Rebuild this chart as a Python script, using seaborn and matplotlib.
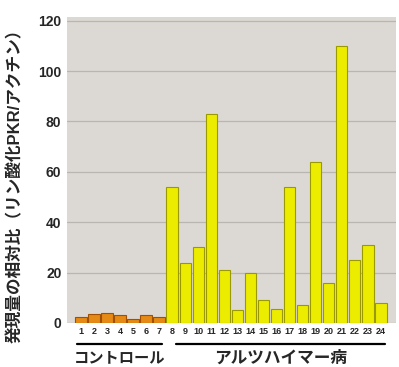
import numpy as np
import pandas as pd
import seaborn as sns
import matplotlib.pyplot as plt
from matplotlib.transforms import blended_transform_factory

# %%
samples = [str(i) for i in range(1, 25)]
control_vals = [2.4, 3.5, 4.0, 3.0, 1.5, 3.2, 2.2]
ad_vals = [54, 24, 30, 83, 21, 5, 20, 9, 5.5, 54, 7, 64, 16, 110, 25, 31, 8]
groups = ["コントロール", "アルツハイマー病"]

df = pd.DataFrame({
    "sample": samples,
    "value": control_vals + ad_vals,
    "group": [groups[0]] * len(control_vals) + [groups[1]] * len(ad_vals),
})

# %%
sns.set_style("white")
plt.rcParams["font.family"] = ["Liberation Sans", "Noto Sans CJK JP", "DejaVu Sans"]

fig = plt.figure(figsize=(3.99, 3.67), dpi=100)
ax = fig.add_axes([0.168, 0.12, 0.824, 0.834])
ax.set_facecolor("#dcd8d4")

sns.barplot(data=df, x="sample", y="value", hue="group",
            palette={groups[0]: "#e58a14", groups[1]: "#ecec00"},
            saturation=1, dodge=False, width=0.88, legend=False, ax=ax,
            edgecolor="#9a9a00", linewidth=0.8, zorder=3)
for p in ax.patches:
    if p.get_facecolor()[1] < 0.7:
        p.set_edgecolor("#a05000")

ax.set_ylim(0, 121.5)
ax.set_xlim(-1.07, 24.15)
ax.set_yticks(range(0, 121, 20))
ax.yaxis.grid(True, color="#b9b5b1", linewidth=0.9, zorder=0)
ax.set_axisbelow(True)
for s in ax.spines.values():
    s.set_visible(False)

ax.tick_params(axis="y", length=0, pad=4, labelsize=10)
ax.tick_params(axis="x", length=0, pad=3, labelsize=6.5)
for t in ax.get_yticklabels() + ax.get_xticklabels():
    t.set_fontweight("bold")

ax.set_xlabel("")
ax.set_ylabel("発現量の相対比（リン酸化PKR/アクチン）", fontsize=12,
              fontweight="bold")
ax.yaxis.set_label_coords(-0.135, 0.46)

tr = blended_transform_factory(ax.transData, ax.transAxes)
for (x0, x1), name, fs in zip([(-0.3, 6.2), (7.3, 23.3)], groups, [11, 12]):
    ax.plot([x0, x1], [-0.07, -0.07], color="black", lw=1.6,
            transform=tr, clip_on=False)
    ax.text((x0 + x1) / 2, -0.115, name, transform=tr, ha="center",
            va="center", fontsize=fs, fontweight="bold")

fig.savefig("out.png", dpi=100)
